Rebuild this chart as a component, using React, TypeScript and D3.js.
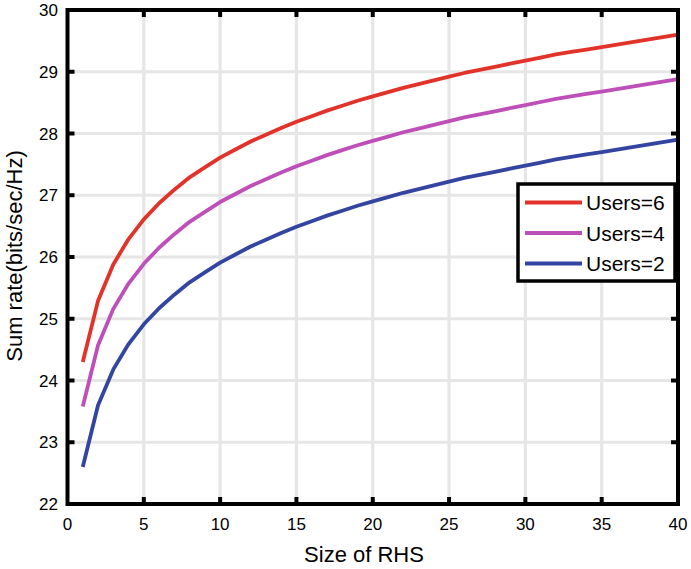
import React from 'react';
import * as d3 from 'd3';

// RHS sizes 1..40
const rhsSizes = [
  1, 2, 3, 4, 5, 6, 7, 8, 9, 10, 11, 12, 13, 14, 15, 16, 17, 18, 19, 20,
  21, 22, 23, 24, 25, 26, 27, 28, 29, 30, 31, 32, 33, 34, 35, 36, 37, 38, 39, 40,
];

const users6 = [
  24.3, 25.29, 25.88, 26.29, 26.61, 26.87, 27.09, 27.29, 27.45, 27.61,
  27.74, 27.87, 27.98, 28.09, 28.19, 28.28, 28.37, 28.45, 28.53, 28.6,
  28.67, 28.74, 28.8, 28.86, 28.92, 28.98, 29.03, 29.08, 29.13, 29.18,
  29.23, 29.28, 29.32, 29.36, 29.4, 29.44, 29.48, 29.52, 29.56, 29.6,
];

const users4 = [
  23.58, 24.57, 25.16, 25.57, 25.89, 26.15, 26.37, 26.57, 26.73, 26.89,
  27.02, 27.15, 27.26, 27.37, 27.47, 27.56, 27.65, 27.73, 27.81, 27.88,
  27.95, 28.02, 28.08, 28.14, 28.2, 28.26, 28.31, 28.36, 28.41, 28.46,
  28.51, 28.56, 28.6, 28.64, 28.68, 28.72, 28.76, 28.8, 28.84, 28.88,
];

const users2 = [
  22.6, 23.6, 24.18, 24.59, 24.91, 25.17, 25.39, 25.59, 25.75, 25.91,
  26.04, 26.17, 26.28, 26.39, 26.49, 26.58, 26.67, 26.75, 26.83, 26.9,
  26.97, 27.04, 27.1, 27.16, 27.22, 27.28, 27.33, 27.38, 27.43, 27.48,
  27.53, 27.58, 27.62, 27.66, 27.7, 27.74, 27.78, 27.82, 27.86, 27.9,
];

const xTicks = [0, 5, 10, 15, 20, 25, 30, 35, 40];
const yTicks = [22, 23, 24, 25, 26, 27, 28, 29, 30];

const series = [
  { name: 'Users=6', values: users6, color: '#e2332a' },
  { name: 'Users=4', values: users4, color: '#bf4fb8' },
  { name: 'Users=2', values: users2, color: '#3345a0' },
];

const W = 691;
const H = 569;
const font = 'Arial, "Liberation Sans", sans-serif';

const App = () => {
  const x = d3.scaleLinear().domain([0, 40]).range([67.5, 678]);
  const y = d3.scaleLinear().domain([22, 30]).range([504, 10]);

  const line = d3
    .line<number>()
    .x((d, i) => x(rhsSizes[i]))
    .y((d) => y(d));

  const [x0, x1] = x.range();
  const [y0, y1] = y.range();

  return (
    <svg
      width={W}
      height={H}
      style={{ position: 'absolute', left: 0, top: 0, background: '#fff' }}
    >
      <rect width={W} height={H} fill="#fff" />

      {/* grid */}
      <g stroke="#e6e6e6" strokeWidth={3.2}>
        {xTicks.slice(1, -1).map((t) => (
          <line key={'gx' + t} x1={x(t)} x2={x(t)} y1={y1} y2={y0} />
        ))}
        {yTicks.slice(1, -1).map((t) => (
          <line key={'gy' + t} x1={x0} x2={x1} y1={y(t)} y2={y(t)} />
        ))}
      </g>

      {/* curves */}
      {series.map((s) => (
        <path
          key={s.name}
          d={line(s.values) || ''}
          fill="none"
          stroke={s.color}
          strokeWidth={3.8}
          strokeLinejoin="round"
        />
      ))}

      {/* ticks, inside */}
      <g stroke="#000" strokeWidth={4}>
        {xTicks.slice(1, -1).map((t) => (
          <g key={'tx' + t}>
            <line x1={x(t)} x2={x(t)} y1={y0} y2={y0 - 7} />
            <line x1={x(t)} x2={x(t)} y1={y1} y2={y1 + 7} />
          </g>
        ))}
        {yTicks.slice(1, -1).map((t) => (
          <g key={'ty' + t}>
            <line x1={x0} x2={x0 + 7} y1={y(t)} y2={y(t)} />
            <line x1={x1} x2={x1 - 7} y1={y(t)} y2={y(t)} />
          </g>
        ))}
      </g>

      {/* axes box */}
      <rect
        x={x0}
        y={y1}
        width={x1 - x0}
        height={y0 - y1}
        fill="none"
        stroke="#000"
        strokeWidth={4}
      />

      {/* tick labels */}
      <g fontFamily={font} fontSize={17} fill="#000">
        {xTicks.map((t) => (
          <text key={'lx' + t} x={x(t)} y={530} textAnchor="middle">
            {t}
          </text>
        ))}
        {yTicks.map((t) => (
          <text key={'ly' + t} x={58} y={y(t) + 6} textAnchor="end">
            {t}
          </text>
        ))}
      </g>

      {/* axis titles */}
      <text
        x={364}
        y={562}
        textAnchor="middle"
        fontFamily={font}
        fontSize={22}
        fill="#000"
      >
        Size of RHS
      </text>
      <text
        transform={`translate(22,256) rotate(-90)`}
        textAnchor="middle"
        fontFamily={font}
        fontSize={22}
        fill="#000"
      >
        Sum rate(bits/sec/Hz)
      </text>

      {/* legend */}
      <g>
        <rect x={518} y={184} width={157} height={97} fill="#fff" stroke="#000" strokeWidth={3.5} />
        {series.map((s, i) => (
          <g key={'lg' + s.name}>
            <line
              x1={525}
              x2={582}
              y1={202.5 + i * 30.5}
              y2={202.5 + i * 30.5}
              stroke={s.color}
              strokeWidth={3.8}
            />
            <text
              x={586}
              y={202.5 + i * 30.5 + 7.5}
              fontFamily={font}
              fontSize={21}
              fill="#000"
            >
              {s.name}
            </text>
          </g>
        ))}
      </g>
    </svg>
  );
};

export default App;
